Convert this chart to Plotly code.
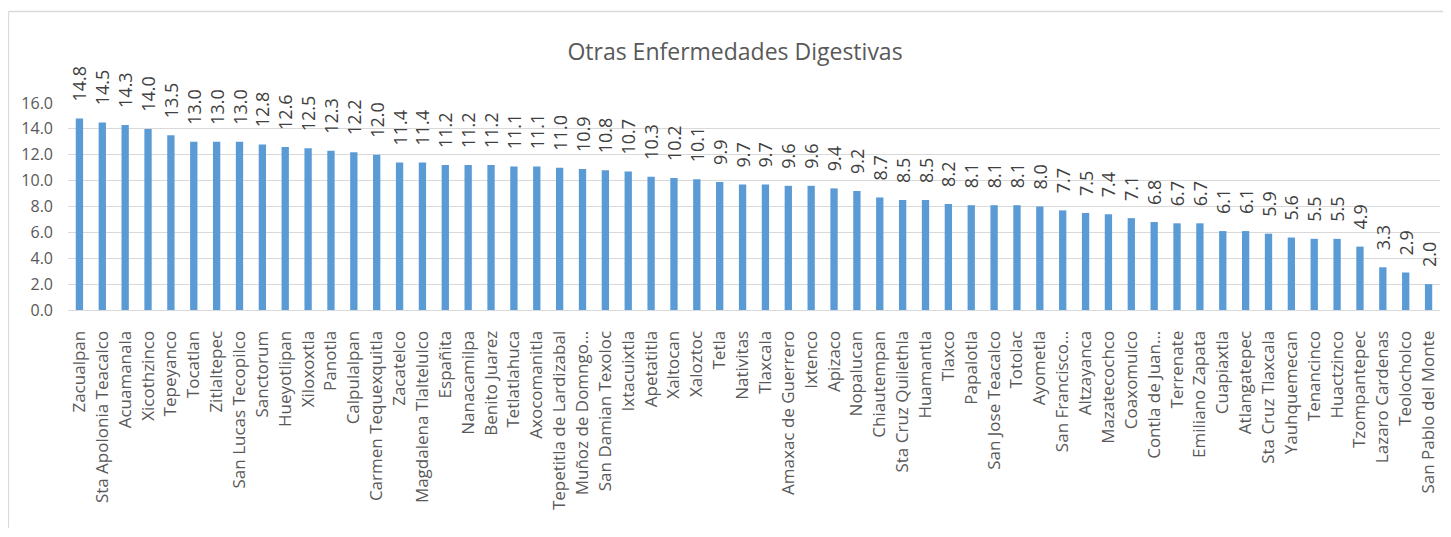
import plotly.graph_objects as go

categories = [
    "Zacualpan", "Sta Apolonia Teacalco", "Acuamanala", "Xicothzinco", "Tepeyanco",
    "Tocatlan", "Zitlaltepec", "San Lucas Tecopilco", "Sanctorum", "Hueyotlipan",
    "Xiloxoxtla", "Panotla", "Calpulalpan", "Carmen Tequexquitla", "Zacatelco",
    "Magdalena Tlaltelulco", "Españita", "Nanacamilpa", "Benito Juarez", "Tetlatlahuca",
    "Axocomanitla", "Tepetitla de Lardizabal", "Muñoz de Domngo…", "San Damian Texoloc", "Ixtacuixtla",
    "Apetatitla", "Xaltocan", "Xaloztoc", "Tetla", "Nativitas",
    "Tlaxcala", "Amaxac de Guerrero", "Ixtenco", "Apizaco", "Nopalucan",
    "Chiautempan", "Sta Cruz Quilethla", "Huamantla", "Tlaxco", "Papalotla",
    "San Jose Teacalco", "Totolac", "Ayometla", "San Francisco…", "Altzayanca",
    "Mazatecochco", "Coaxomulco", "Contla de Juan…", "Terrenate", "Emiliano Zapata",
    "Cuapiaxtla", "Atlangatepec", "Sta Cruz Tlaxcala", "Yauhquemecan", "Tenancinco",
    "Huactzinco", "Tzompantepec", "Lazaro Cardenas", "Teolocholco", "San Pablo del Monte",
]

values = [
    14.8, 14.5, 14.3, 14.0, 13.5,
    13.0, 13.0, 13.0, 12.8, 12.6,
    12.5, 12.3, 12.2, 12.0, 11.4,
    11.4, 11.2, 11.2, 11.2, 11.1,
    11.1, 11.0, 10.9, 10.8, 10.7,
    10.3, 10.2, 10.1, 9.9, 9.7,
    9.7, 9.6, 9.6, 9.4, 9.2,
    8.7, 8.5, 8.5, 8.2, 8.1,
    8.1, 8.1, 8.0, 7.7, 7.5,
    7.4, 7.1, 6.8, 6.7, 6.7,
    6.1, 6.1, 5.9, 5.6, 5.5,
    5.5, 4.9, 3.3, 2.9, 2.0,
]

y_ticks = [0, 2, 4, 6, 8, 10, 12, 14, 16]
title_text = "Otras Enfermedades Digestivas"

FONT = "Open Sans"
OFF = 8  # page body margin
W, H = 1451 - OFF, 537 - OFF
# plot area in screen pixels
SL, SR, ST, SB = 67.6, 1439.6, 102.7, 310.0
L = SL - OFF
R = W - (SR - OFF)
T = ST - OFF
B = H - (SB - OFF)

fig = go.Figure()
fig.add_trace(go.Bar(
    x=categories,
    y=values,
    marker=dict(color="#5B9BD5", line=dict(width=0)),
    text=["\u00a0\u00a0\u00a0" + f"{v:.1f}" for v in values],
    textposition="outside",
    textangle=-90,
    constraintext="none",
    textfont=dict(family=FONT, size=18, color="#404040"),
    cliponaxis=False,
    hoverinfo="x+y",
))

fig.update_layout(
    width=W, height=H,
    margin=dict(l=L, r=R, t=T, b=B, autoexpand=False),
    paper_bgcolor="white",
    plot_bgcolor="white",
    bargap=0.68,
    showlegend=False,
    title=dict(
        text=title_text,
        x=(735 - OFF) / W, xref="container", xanchor="center",
        y=1 - (52 - OFF) / H, yref="container", yanchor="middle",
        font=dict(family=FONT, size=23, color="#595959"),
    ),
    font=dict(family=FONT, color="#595959"),
)

fig.update_xaxes(
    tickangle=-90,
    tickfont=dict(family=FONT, size=17, color="#595959"),
    showline=True, linecolor="#D9D9D9", linewidth=1,
    showgrid=False, ticks="", ticklabelstandoff=13,
)
fig.update_yaxes(
    range=[0, 16],
    tickvals=y_ticks,
    ticktext=[f"{v:.1f}" for v in y_ticks],
    tickfont=dict(family=FONT, size=16, color="#595959"),
    showgrid=True, gridcolor="#D9D9D9", gridwidth=1,
    zeroline=False, showline=False, ticks="", ticklabelstandoff=14,
)

# chart frame (top and left edges), given in screen pixels
pw = W - L - R
ph = H - T - B
def px_x(px):
    return (px - OFF - L) / pw
def px_y(py):
    return 1 - (py - OFF - T) / ph

fig.add_shape(type="line", xref="paper", yref="paper",
              x0=px_x(8), x1=px_x(1460), y0=px_y(11), y1=px_y(11),
              line=dict(color="#D9D9D9", width=1.5))
fig.add_shape(type="line", xref="paper", yref="paper",
              x0=px_x(8), x1=px_x(8), y0=px_y(11), y1=px_y(528),
              line=dict(color="#D9D9D9", width=1.5))

fig.write_html("out.html")
